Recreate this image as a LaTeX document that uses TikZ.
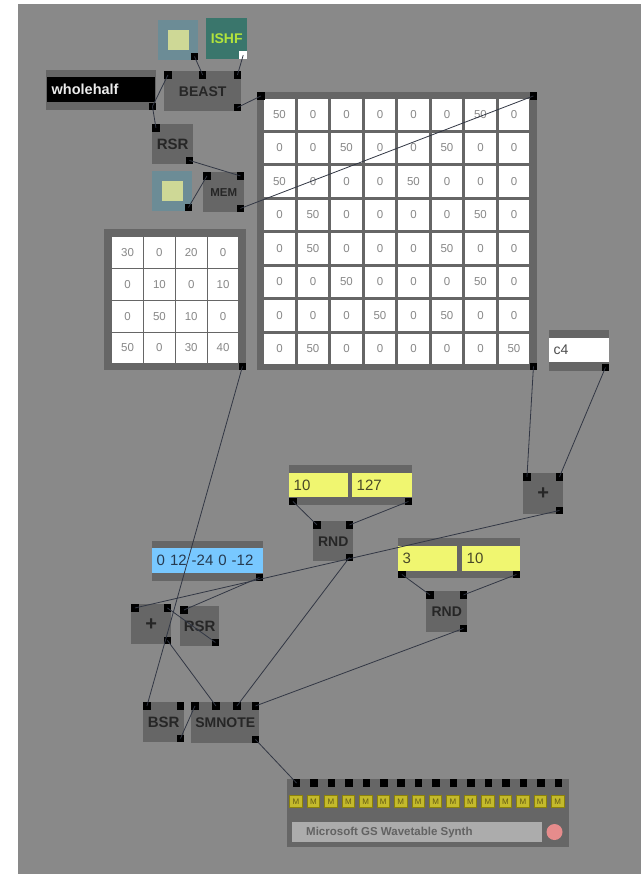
\documentclass[tikz,border=0pt]{standalone}
\usepackage{fontspec}
\setmainfont{Liberation Sans}
\usetikzlibrary{positioning}

\definecolor{bggray}{RGB}{137,137,137}
\definecolor{objgray}{RGB}{102,102,102}
\definecolor{objtext}{RGB}{38,38,38}
\definecolor{wirecol}{RGB}{50,55,68}
\definecolor{celltext}{RGB}{135,135,135}
\definecolor{tglblue}{RGB}{108,140,150}
\definecolor{tglin}{RGB}{206,216,150}
\definecolor{ishfgreen}{RGB}{58,118,108}
\definecolor{ishftext}{RGB}{178,228,60}
\definecolor{numyellow}{RGB}{240,246,112}
\definecolor{numtext}{RGB}{72,72,40}
\definecolor{listblue}{RGB}{120,200,255}
\definecolor{listtext}{RGB}{38,58,80}
\definecolor{myellow}{RGB}{196,186,44}
\definecolor{mdark}{RGB}{140,130,10}
\definecolor{mtext}{RGB}{100,92,20}
\definecolor{midifield}{RGB}{172,172,172}
\definecolor{miditext}{RGB}{98,98,98}
\definecolor{ledred}{RGB}{230,140,140}

\begin{document}
\begin{tikzpicture}[
    x=1pt, y=-1pt,
    obj/.style={fill=objgray, inner sep=0pt, anchor=north west, text=objtext, font=\fontsize{14}{14}\selectfont\bfseries},
    port/.style={fill=black, inner sep=0pt, minimum size=7.5pt},
    wire/.style={draw=wirecol, line width=0.8pt},
    cell/.style={fill=white, inner sep=0pt, anchor=north west, text=celltext, font=\fontsize{11.5}{11.5}\selectfont},
    field/.style={anchor=north west, inner xsep=4.5pt, inner ysep=0pt, align=left, font=\fontsize{15}{15}\selectfont},
    mbox/.style={fill=myellow, draw=mdark, line width=0.8pt, minimum width=12.5pt, minimum height=12.5pt, inner sep=0pt, text=mtext, font=\fontsize{8}{8}\selectfont},
]
\useasboundingbox (0,0) rectangle (641,874);
\fill[white] (0,0) rectangle (641,874);
\fill[bggray] (18,4) rectangle (641,874);

% top row: toggles, ISHF, BEAST
\node[fill=tglblue, anchor=north west, minimum size=40pt, inner sep=0pt] (tglA) at (158,20) {};
\node[fill=tglin, minimum width=21pt, minimum height=20pt, inner sep=0pt] (tglA-x) at (tglA.center) {};
\node[fill=ishfgreen, anchor=north west, minimum size=41pt, inner sep=0pt, text=ishftext, font=\fontsize{14}{14}\selectfont\bfseries] (ishf) at (206,18) {ISHF};
\node[obj, minimum width=77pt, minimum height=40pt] (beast) at (164,71) {BEAST};

% wholehalf menu
\node[fill=objgray, anchor=north west, minimum width=110pt, minimum height=40pt, inner sep=0pt] (whole) at (46,70) {};
\node[fill=black, text=white!92!black, anchor=north west, text width=99pt, inner xsep=4.5pt, inner ysep=0pt, minimum height=25pt, align=left, font=\fontsize{14.5}{14.5}\selectfont\bfseries] (whole-f) at (47,77) {wholehalf};

\node[obj, minimum width=41pt, minimum height=40pt, font=\fontsize{15}{15}\selectfont\bfseries] (rsrA) at (152,124) {RSR};
\node[fill=tglblue, anchor=north west, minimum size=40pt, inner sep=0pt] (tglB) at (152,171) {};
\node[fill=tglin, minimum width=21pt, minimum height=20pt, inner sep=0pt] (tglB-x) at (tglB.center) {};
\node[obj, minimum width=41pt, minimum height=40pt, font=\fontsize{11.5}{11.5}\selectfont\bfseries] (mem) at (203,172) {MEM};

% big matrix
\node[fill=objgray, anchor=north west, minimum width=280pt, minimum height=278pt, inner sep=0pt] (big) at (257,92) {};
\foreach \vals [count=\r] in {{50,0,0,0,0,0,50,0},{0,0,50,0,0,50,0,0},{50,0,0,0,50,0,0,0},{0,50,0,0,0,0,50,0},
    {0,50,0,0,0,50,0,0},{0,0,50,0,0,0,50,0},{0,0,0,50,0,50,0,0},{0,50,0,0,0,0,0,50}}
  \foreach \v [count=\c] in \vals
    \node[cell, minimum size=30.5pt] (big-\r-\c) at (264+\c*33.5-33.5, 99+\r*33.5-33.5) {\v};

% small matrix
\node[fill=objgray, anchor=north west, minimum width=142pt, minimum height=141pt, inner sep=0pt] (small) at (104,229) {};
\foreach \vals [count=\r] in {{30,0,20,0},{0,10,0,10},{0,50,10,0},{50,0,30,40}}
  \foreach \v [count=\c] in \vals
    \node[cell, minimum size=30.8pt] (small-\r-\c) at (112+\c*31.8-31.8, 237+\r*31.8-31.8) {\v};

% c4 message and right adder
\node[fill=objgray, anchor=north west, minimum width=60pt, minimum height=41pt, inner sep=0pt] (c4) at (549,330) {};
\node[field, fill=white, text width=51pt, minimum height=24pt, inner xsep=4.5pt, text=black!70, font=\fontsize{14}{14}\selectfont] (c4-f) at (549,338) {c4};
\node[obj, minimum width=40pt, minimum height=41pt, font=\fontsize{20}{20}\selectfont\bfseries] (plusR) at (523,473) {+};

% random note numbers
\node[fill=objgray, anchor=north west, minimum width=123pt, minimum height=40pt, inner sep=0pt] (msgA) at (289,465) {};
\node[field, fill=numyellow, text=numtext, text width=50pt, minimum height=24pt] (msgA-f1) at (289,473) {10};
\node[field, fill=numyellow, text=numtext, text width=51pt, minimum height=24pt] (msgA-f2) at (352,473) {127};
\node[obj, minimum width=40pt, minimum height=40pt] (rndA) at (313,521) {RND};

% interval list
\node[fill=objgray, anchor=north west, minimum width=111pt, minimum height=40pt, inner sep=0pt] (list) at (152,541) {};
\node[field, fill=listblue, text=listtext, text width=102pt, minimum height=25pt] (list-f) at (152,548) {0 12 -24 0 -12};

\node[fill=objgray, anchor=north west, minimum width=122pt, minimum height=40pt, inner sep=0pt] (msgB) at (398,538) {};
\node[field, fill=numyellow, text=numtext, text width=50pt, minimum height=25pt] (msgB-f1) at (398,546) {3};
\node[field, fill=numyellow, text=numtext, text width=49pt, minimum height=25pt] (msgB-f2) at (462,546) {10};
\node[obj, minimum width=41pt, minimum height=41pt] (rndB) at (426,591) {RND};

\node[obj, minimum width=40pt, minimum height=40pt, font=\fontsize{20}{20}\selectfont\bfseries] (plusL) at (131,604) {+};
\node[obj, minimum width=39pt, minimum height=40pt, font=\fontsize{15}{15}\selectfont\bfseries] (rsrB) at (180,606) {RSR};

% note output
\node[obj, minimum width=41pt, minimum height=40pt, font=\fontsize{15}{15}\selectfont\bfseries] (bsr) at (143,702) {BSR};
\node[obj, minimum width=68pt, minimum height=41pt] (smn) at (191,702) {SMNOTE};

% midi out
\node[fill=objgray, anchor=north west, minimum width=282pt, minimum height=68pt, inner sep=0pt] (midi) at (287,779) {};
\foreach \i in {1,...,16} {
  \node[port] (midi-i\i) at (279.05+\i*17.45, 783) {};
  \node[mbox] (midi-m\i) at (278.55+\i*17.45, 801.5) {M};
}
\node[fill=midifield, anchor=north west, minimum width=250pt, minimum height=20pt, inner sep=0pt] (midi-name) at (292,822) {};
\node[anchor=west, inner sep=0pt, text=miditext, font=\fontsize{11.5}{11.5}\selectfont\bfseries] (midi-label) at ([xshift=14pt]midi-name.west) {Microsoft GS Wavetable Synth};
\node[circle, fill=ledred, minimum size=16pt, inner sep=0pt] (midi-led) at (554.5,832) {};

% inlets and outlets
\foreach \n/\p/\a in {tglA/o/south east, beast/i1/north west, beast/i2/north, beast/i3/north east, beast/o/south east,
    whole/o/south east, rsrA/i/north west, rsrA/o/south east, tglB/o/south east,
    mem/i1/north west, mem/i2/north east, mem/o/south east,
    big/i1/north west, big/i2/north east, big/o/south east, small/o/south east, c4/o/south east,
    plusR/i1/north west, plusR/i2/north east, plusR/o/south east,
    msgA/o1/south west, msgA/o2/south east, rndA/i1/north west, rndA/i2/north east, rndA/o/south east,
    list/o/south east, msgB/o1/south west, msgB/o2/south east,
    rndB/i1/north west, rndB/i2/north east, rndB/o/south east,
    plusL/i1/north west, plusL/i2/north east, plusL/o/south east,
    rsrB/i/north west, rsrB/o/south east,
    bsr/i1/north west, bsr/i2/north east, bsr/o/south east,
    smn/i1/north west, smn/i4/north east, smn/o/south east}
  \node[port, anchor=\a] (\n-\p) at (\n.\a) {};
\node[port, anchor=north west] (smn-i2) at (212,702) {};
\node[port, anchor=north west] (smn-i3) at (233,702) {};
\node[fill=white, inner sep=0pt, minimum size=8pt, anchor=south east] (ishf-o) at (ishf.south east) {};

% patch cords
\foreach \a/\b in {tglA-o/beast-i2, ishf-o/beast-i3, whole-o/beast-i1, whole-o/rsrA-i,
    rsrA-o/mem-i2, tglB-o/mem-i1, beast-o/big-i1, mem-o/big-i2,
    big-o/plusR-i1, c4-o/plusR-i2, plusR-o/plusL-i1, list-o/rsrB-i, rsrB-o/plusL-i2,
    msgA-o1/rndA-i1, msgA-o2/rndA-i2, msgB-o1/rndB-i1, msgB-o2/rndB-i2,
    small-o/bsr-i1, plusL-o/smn-i2, rndA-o/smn-i3, rndB-o/smn-i4, bsr-o/smn-i1, smn-o/midi-i1}
  \draw[wire] (\a.center) -- (\b.center);
\end{tikzpicture}
\end{document}
